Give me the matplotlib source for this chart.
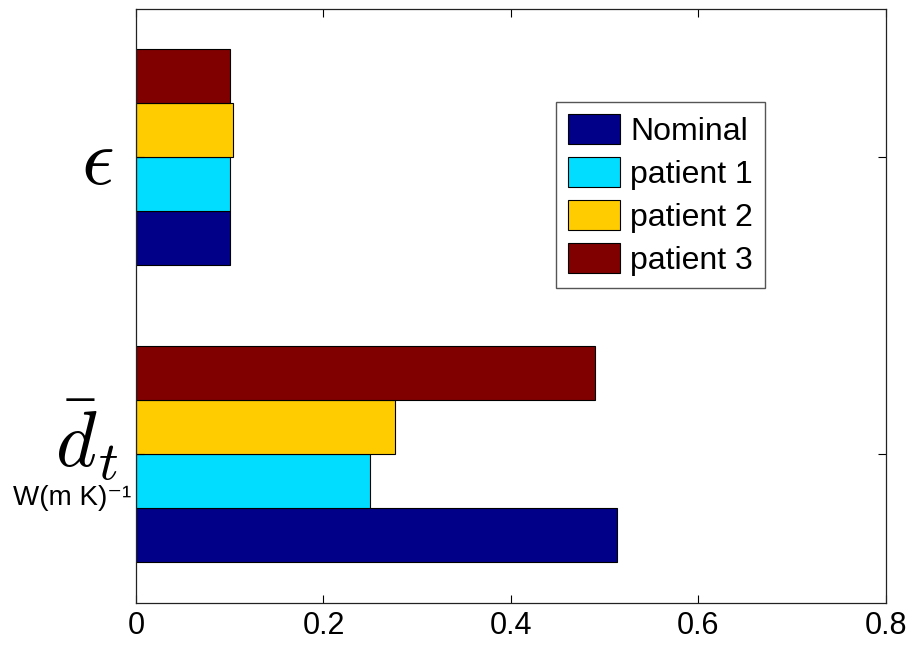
import numpy as np
import matplotlib
matplotlib.use("Agg")
import matplotlib.pyplot as plt

plt.rcParams['font.family'] = ['Liberation Sans', 'DejaVu Sans']
plt.rcParams['mathtext.fontset'] = 'cm'

series = ['Nominal', 'patient 1', 'patient 2', 'patient 3']
nominal = [0.513, 0.100]
patient1 = [0.250, 0.100]
patient2 = [0.276, 0.103]
patient3 = [0.490, 0.100]
colors = ['#000088', '#00DDFF', '#FFCC00', '#800000']

values = [nominal, patient1, patient2, patient3]
ypos = np.array([1, 2])
h = 0.1818
offsets = [-1.5 * h, -0.5 * h, 0.5 * h, 1.5 * h]

fig = plt.figure(figsize=(9.16, 6.46), dpi=100)
ax = fig.add_axes([0.1485, 0.0666, 0.8185, 0.9195])

for name, vals, off, c in zip(series, values, offsets, colors):
    ax.barh(ypos + off, vals, height=h, color=c, edgecolor='black', linewidth=0.8, label=name)

ax.set_xlim(0, 0.8)
ax.set_ylim(0.5, 2.5)
ax.set_xticks([0, 0.2, 0.4, 0.6, 0.8])
ax.set_xticklabels(['0', '0.2', '0.4', '0.6', '0.8'], fontsize=22)
ax.set_yticks(ypos)
ax.set_yticklabels(['', ''])
ax.tick_params(direction='in', length=6, top=True, right=True, width=0.8, pad=6)
for s in ax.spines.values():
    s.set_linewidth(0.9)
    s.set_color('#222222')

# y labels
tr = ax.get_yaxis_transform()
ax.text(-0.052, 1.98, r'$\epsilon$', transform=tr, fontsize=58, ha='center', va='center')
ax.text(-0.066, 1.05, r'$\bar{d}_t$', transform=tr, fontsize=56, ha='center', va='center')
ax.text(-0.085, 0.855, 'W(m K)⁻¹', transform=tr, fontsize=20, ha='center', va='center')

leg = ax.legend(loc='upper right', bbox_to_anchor=(0.839, 0.843), fontsize=23,
                fancybox=False, framealpha=1, edgecolor='#555555',
                handlelength=1.65, handleheight=1.05, handletextpad=0.3,
                labelspacing=0.32, borderpad=0.38, borderaxespad=0)
leg.get_frame().set_linewidth(1.0)

fig.savefig('out.png', dpi=100)
